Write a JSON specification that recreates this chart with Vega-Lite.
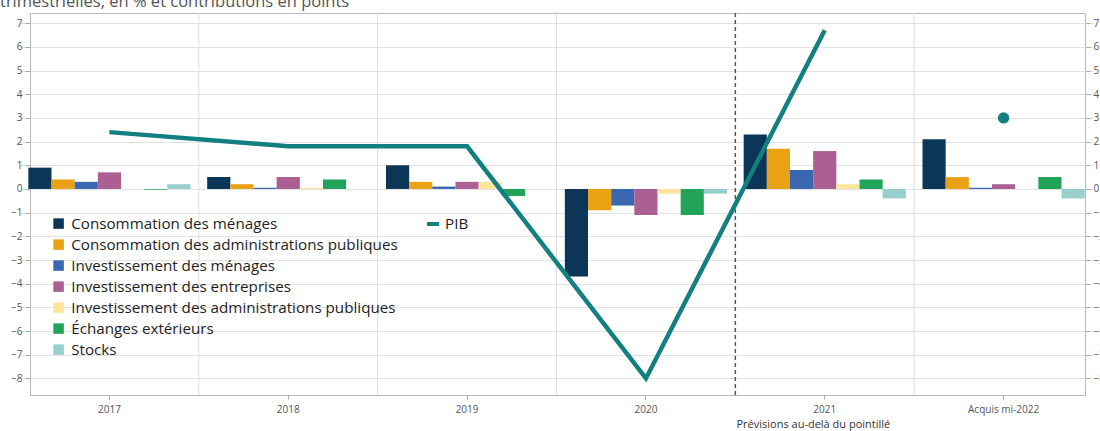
{
  "$schema": "https://vega.github.io/schema/vega-lite/v6.json",
  "autosize": {"type": "none"},
  "width": 1055,
  "height": 382,
  "padding": {"left": 30, "top": 13, "right": 15, "bottom": 36},
  "title": {"text": "trimestrielles, en % et contributions en points", "anchor": "start", "frame": "group", "dx": -30, "offset": 2, "fontSize": 16.5, "font": "Open Sans", "fontWeight": "normal", "color": "#555555"},
  "config": {
    "font": "Open Sans",
    "view": {"stroke": "#b8b8b8", "strokeWidth": 1}
  },
  "datasets": {
    "contrib": [
      {"annee": "2017", "comp": "Consommation des ménages", "v": 0.9},
      {"annee": "2017", "comp": "Consommation des administrations publiques", "v": 0.4},
      {"annee": "2017", "comp": "Investissement des ménages", "v": 0.3},
      {"annee": "2017", "comp": "Investissement des entreprises", "v": 0.7},
      {"annee": "2017", "comp": "Investissement des administrations publiques", "v": 0.0},
      {"annee": "2017", "comp": "Échanges extérieurs", "v": -0.03},
      {"annee": "2017", "comp": "Stocks", "v": 0.2},
      {"annee": "2018", "comp": "Consommation des ménages", "v": 0.5},
      {"annee": "2018", "comp": "Consommation des administrations publiques", "v": 0.2},
      {"annee": "2018", "comp": "Investissement des ménages", "v": 0.05},
      {"annee": "2018", "comp": "Investissement des entreprises", "v": 0.5},
      {"annee": "2018", "comp": "Investissement des administrations publiques", "v": 0.05},
      {"annee": "2018", "comp": "Échanges extérieurs", "v": 0.4},
      {"annee": "2018", "comp": "Stocks", "v": 0.0},
      {"annee": "2019", "comp": "Consommation des ménages", "v": 1.0},
      {"annee": "2019", "comp": "Consommation des administrations publiques", "v": 0.3},
      {"annee": "2019", "comp": "Investissement des ménages", "v": 0.1},
      {"annee": "2019", "comp": "Investissement des entreprises", "v": 0.3},
      {"annee": "2019", "comp": "Investissement des administrations publiques", "v": 0.3},
      {"annee": "2019", "comp": "Échanges extérieurs", "v": -0.3},
      {"annee": "2019", "comp": "Stocks", "v": 0.0},
      {"annee": "2020", "comp": "Consommation des ménages", "v": -3.7},
      {"annee": "2020", "comp": "Consommation des administrations publiques", "v": -0.9},
      {"annee": "2020", "comp": "Investissement des ménages", "v": -0.7},
      {"annee": "2020", "comp": "Investissement des entreprises", "v": -1.1},
      {"annee": "2020", "comp": "Investissement des administrations publiques", "v": -0.2},
      {"annee": "2020", "comp": "Échanges extérieurs", "v": -1.1},
      {"annee": "2020", "comp": "Stocks", "v": -0.2},
      {"annee": "2021", "comp": "Consommation des ménages", "v": 2.3},
      {"annee": "2021", "comp": "Consommation des administrations publiques", "v": 1.7},
      {"annee": "2021", "comp": "Investissement des ménages", "v": 0.8},
      {"annee": "2021", "comp": "Investissement des entreprises", "v": 1.6},
      {"annee": "2021", "comp": "Investissement des administrations publiques", "v": 0.2},
      {"annee": "2021", "comp": "Échanges extérieurs", "v": 0.4},
      {"annee": "2021", "comp": "Stocks", "v": -0.4},
      {"annee": "Acquis mi-2022", "comp": "Consommation des ménages", "v": 2.1},
      {"annee": "Acquis mi-2022", "comp": "Consommation des administrations publiques", "v": 0.5},
      {"annee": "Acquis mi-2022", "comp": "Investissement des ménages", "v": 0.05},
      {"annee": "Acquis mi-2022", "comp": "Investissement des entreprises", "v": 0.2},
      {"annee": "Acquis mi-2022", "comp": "Investissement des administrations publiques", "v": 0.0},
      {"annee": "Acquis mi-2022", "comp": "Échanges extérieurs", "v": 0.5},
      {"annee": "Acquis mi-2022", "comp": "Stocks", "v": -0.4}
    ],
    "pib": [
      {"annee": "2017", "pib": 2.4},
      {"annee": "2018", "pib": 1.8},
      {"annee": "2019", "pib": 1.8},
      {"annee": "2020", "pib": -8.0},
      {"annee": "2021", "pib": 6.7}
    ],
    "acquis": [{"annee": "Acquis mi-2022", "pib": 3.0}],
    "grid": [{"annee": "2018"}, {"annee": "2019"}, {"annee": "2020"}, {"annee": "Acquis mi-2022"}],
    "prev": [{"annee": "2021"}]
  },
  "encoding": {
    "x": {
      "field": "annee", "type": "nominal", "title": "Prévisions au-delà du pointillé",
      "scale": {"domain": ["2017", "2018", "2019", "2020", "2021", "Acquis mi-2022"], "range": [-10, 1063], "paddingInner": 0, "paddingOuter": 0},
      "axis": {"title": "Prévisions au-delà du pointillé", "titleX": 706, "titleY": 32, "titleAlign": "left", "titleAnchor": "start", "titleBaseline": "alphabetic", "titleFontSize": 11, "titleFontWeight": "normal", "titleColor": "#333333", "labelAngle": 0, "labelFontSize": 10, "labelColor": "#555555", "labelPadding": 5, "tickSize": 4, "tickColor": "#aaaaaa", "domain": false, "grid": false}
    }
  },
  "layer": [
    {
      "data": {"name": "grid"},
      "mark": {"type": "rule", "color": "#dddddd", "strokeWidth": 1},
      "encoding": {
        "x": {"field": "annee", "type": "nominal", "title": "Prévisions au-delà du pointillé", "bandPosition": 0}
      }
    },
    {
      "data": {"name": "contrib"},
      "mark": {"type": "bar"},
      "encoding": {
        "y": {"field": "v", "type": "quantitative", "scale": {"domain": [-8.7, 7.43], "nice": false},
          "axis": {"values": [-8, -7, -6, -5, -4, -3, -2, -1, 0, 1, 2, 3, 4, 5, 6, 7], "title": null, "labelFontSize": 10, "labelColor": "#555555", "tickSize": 5, "tickColor": "#aaaaaa", "labelPadding": 3, "domain": false, "grid": true, "gridColor": "#e2e2e2"}},
        "xOffset": {"field": "comp", "type": "nominal", "scale": {"domain": ["Consommation des ménages", "Consommation des administrations publiques", "Investissement des ménages", "Investissement des entreprises", "Investissement des administrations publiques", "Échanges extérieurs", "Stocks"], "paddingInner": 0, "paddingOuter": 0.36}},
        "color": {"field": "comp", "type": "nominal",
          "scale": {"domain": ["Consommation des ménages", "Consommation des administrations publiques", "Investissement des ménages", "Investissement des entreprises", "Investissement des administrations publiques", "Échanges extérieurs", "Stocks"], "range": ["#0c3657", "#e8a213", "#3a67b1", "#ab5f93", "#fde69c", "#22a35a", "#98cfcd"]},
          "legend": {"orient": "none", "legendX": 21, "legendY": 203, "title": null, "labelFontSize": 15.2, "labelLimit": 0, "labelColor": "#1e1e1e", "symbolType": "square", "symbolSize": 110, "symbolStrokeWidth": 0, "rowPadding": 5, "labelOffset": 5}}
      }
    },
    {
      "data": {"name": "prev"},
      "mark": {"type": "rule", "color": "#555555", "strokeWidth": 1.5, "strokeDash": [4, 3]},
      "encoding": {
        "x": {"field": "annee", "type": "nominal", "title": "Prévisions au-delà du pointillé", "bandPosition": 0}
      }
    },
    {
      "data": {"name": "pib"},
      "mark": {"type": "line", "strokeWidth": 4.5},
      "encoding": {
        "y": {"field": "pib", "type": "quantitative", "scale": {"domain": [-8.7, 7.43], "nice": false},
          "axis": {"orient": "right", "values": [-8, -7, -6, -5, -4, -3, -2, -1, 0, 1, 2, 3, 4, 5, 6, 7], "title": null, "labelFontSize": 10, "labelColor": "#555555", "tickSize": 5, "tickColor": "#aaaaaa", "labelPadding": 3, "domain": false, "grid": false}},
        "stroke": {"datum": "PIB", "type": "nominal", "scale": {"domain": ["PIB"], "range": ["#127f80"]},
          "legend": {"orient": "none", "legendX": 395, "legendY": 203, "title": null, "labelFontSize": 15.2, "labelColor": "#1e1e1e", "symbolType": "stroke", "symbolSize": 144, "symbolStrokeWidth": 4, "labelOffset": 4}}
      }
    },
    {
      "data": {"name": "acquis"},
      "mark": {"type": "circle", "size": 130, "color": "#127f80", "opacity": 1},
      "encoding": {
        "y": {"field": "pib", "type": "quantitative", "scale": {"domain": [-8.7, 7.43], "nice": false}, "axis": null}
      }
    }
  ],
  "resolve": {"axis": {"y": "independent"}}
}
